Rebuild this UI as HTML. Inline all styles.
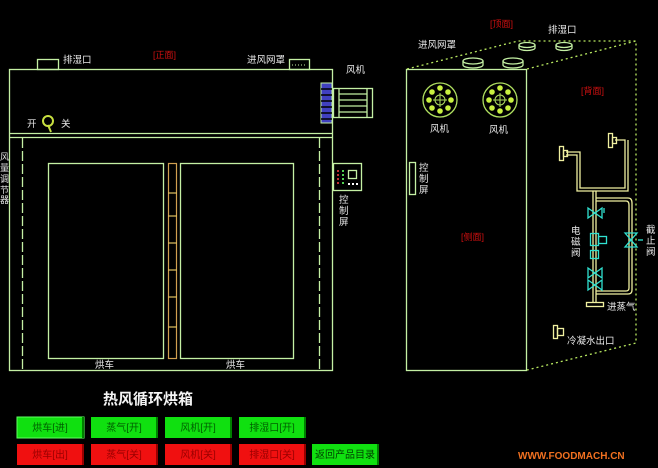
<!DOCTYPE html>
<html><head><meta charset="utf-8"><style>
body{margin:0;background:#000;width:658px;height:468px;overflow:hidden}
svg{display:block}
text{font-family:"Liberation Sans","Noto Sans CJK SC",sans-serif}
.l{fill:none;stroke:#c4f0a4;stroke-width:1.3}
.d{fill:none;stroke:#b8e860;stroke-width:1.3;stroke-dasharray:2 3}
.w{fill:#e8e8e8;font-size:9.5px}
.r{fill:#d01010;font-size:9px}
.y{fill:none;stroke:#f0f0a0;stroke-width:1.3}
.c{fill:none;stroke:#30e0d0;stroke-width:1.3}
.bt{font-size:10px;text-anchor:middle}
</style></head><body>
<svg width="658" height="468" viewBox="0 0 658 468">
<!-- Front view -->
<rect class="l" x="9.5" y="69.5" width="323" height="301"/>
<line class="l" x1="9" y1="133.5" x2="332" y2="133.5"/>
<line class="l" x1="9" y1="137.5" x2="332" y2="137.5"/>
<line class="l" x1="22.5" y1="138" x2="22.5" y2="370" stroke-dasharray="10 3"/>
<line class="l" x1="319.5" y1="138" x2="319.5" y2="370" stroke-dasharray="10 3"/>
<rect class="l" x="48.5" y="163.5" width="115" height="195"/>
<rect class="l" x="180.5" y="163.5" width="113" height="195"/>
<rect x="168.5" y="163.5" width="8" height="195" fill="none" stroke="#d0a050" stroke-width="1.2"/>
<g stroke="#e0c060" stroke-width="1.2">
<line x1="168" y1="216" x2="177" y2="216"/><line x1="168" y1="243" x2="177" y2="243"/><line x1="168" y1="270" x2="177" y2="270"/><line x1="168" y1="297" x2="177" y2="297"/><line x1="168" y1="327" x2="177" y2="327"/><line x1="168" y1="193" x2="177" y2="193"/></g>
<rect class="l" x="37.5" y="59.5" width="21" height="10"/>
<rect class="l" x="289.5" y="59.5" width="20" height="10"/>
<line x1="292" y1="65" x2="307" y2="65" stroke="#c4f0a4" stroke-dasharray="1 2"/>
<rect x="321" y="83" width="11" height="40" fill="#4040c0" stroke="#c4f0a4"/>
<g stroke="#000" stroke-width="1.5"><line x1="321" y1="89" x2="332" y2="89"/><line x1="321" y1="95" x2="332" y2="95"/><line x1="321" y1="101" x2="332" y2="101"/><line x1="321" y1="107" x2="332" y2="107"/><line x1="321" y1="113" x2="332" y2="113"/><line x1="321" y1="119" x2="332" y2="119"/></g>
<rect class="l" x="333.5" y="88.5" width="39" height="29"/>
<line class="l" x1="339" y1="88" x2="339" y2="118"/><line class="l" x1="367" y1="88" x2="367" y2="118"/>
<g class="l"><line x1="339" y1="94" x2="367" y2="94"/><line x1="339" y1="100" x2="367" y2="100"/><line x1="339" y1="106" x2="367" y2="106"/><line x1="339" y1="112" x2="367" y2="112"/></g>
<rect class="l" x="333.5" y="163.5" width="28" height="27"/>
<rect class="l" x="348.5" y="170.5" width="8" height="8"/>
<g fill="#c03030"><rect x="337" y="170" width="2" height="2"/><rect x="337" y="174" width="2" height="2"/><rect x="337" y="178" width="2" height="2"/><rect x="337" y="182" width="2" height="2"/></g>
<g fill="#50d050"><rect x="342" y="170" width="2" height="2"/><rect x="342" y="174" width="2" height="2"/><rect x="342" y="178" width="2" height="2"/><rect x="342" y="182" width="2" height="2"/></g>
<g fill="#fff"><rect x="348" y="183" width="2" height="2"/><rect x="352" y="183" width="2" height="2"/><rect x="356" y="183" width="2" height="2"/></g>
<circle cx="48" cy="121" r="5" fill="none" stroke="#c8e040" stroke-width="2"/>
<line x1="48" y1="125" x2="51" y2="132" stroke="#c8e040" stroke-width="2"/>
<text class="w" x="27" y="127">开</text><text class="w" x="61" y="127">关</text>
<text class="w" x="63" y="63">排湿口</text>
<text class="w" x="247" y="63">进风网罩</text>
<text class="w" x="346" y="73">风机</text>
<text class="r" x="153" y="58">[正面]</text>
<text class="w" x="0" y="160" style="font-size:9px">风</text><text class="w" x="0" y="171" style="font-size:9px">量</text><text class="w" x="0" y="182" style="font-size:9px">调</text><text class="w" x="0" y="193" style="font-size:9px">节</text><text class="w" x="0" y="203" style="font-size:9px">器</text>
<text class="w" x="339" y="203">控</text><text class="w" x="339" y="214">制</text><text class="w" x="339" y="225">屏</text>
<text class="w" x="95" y="368">烘车</text><text class="w" x="226" y="368">烘车</text>
<!-- Side view -->
<rect class="l" x="406.5" y="69.5" width="120" height="301"/>
<path class="d" d="M407 69 L518 41 L636 41 L636 343 L527 370 M527 69 L636 41"/>
<g class="l">
<ellipse cx="473" cy="61" rx="10" ry="3"/><path d="M463 61 v4 a10 3 0 0 0 20 0 v-4"/>
<ellipse cx="513" cy="61" rx="10" ry="3"/><path d="M503 61 v4 a10 3 0 0 0 20 0 v-4"/>
<ellipse cx="527" cy="45" rx="8" ry="2.5"/><path d="M519 45 v3 a8 2.5 0 0 0 16 0 v-3"/>
<ellipse cx="564" cy="45" rx="8" ry="2.5"/><path d="M556 45 v3 a8 2.5 0 0 0 16 0 v-3"/>
</g>
<g>
<circle cx="440" cy="100" r="17" fill="none" stroke="#b0e060" stroke-width="1.3"/>
<circle cx="440" cy="100" r="5" fill="none" stroke="#b0e060"/><line x1="433" y1="100" x2="447" y2="100" stroke="#b0e060"/><line x1="440" y1="93" x2="440" y2="107" stroke="#b0e060"/>
<g fill="#c8f040"><circle cx="440" cy="88" r="2.8"/><circle cx="448" cy="92" r="2.8"/><circle cx="451" cy="100" r="2.8"/><circle cx="448" cy="108" r="2.8"/><circle cx="440" cy="111" r="2.8"/><circle cx="432" cy="108" r="2.8"/><circle cx="429" cy="100" r="2.8"/><circle cx="432" cy="92" r="2.8"/></g>
<circle cx="500" cy="100" r="17" fill="none" stroke="#b0e060" stroke-width="1.3"/>
<circle cx="500" cy="100" r="5" fill="none" stroke="#b0e060"/><line x1="493" y1="100" x2="507" y2="100" stroke="#b0e060"/><line x1="500" y1="93" x2="500" y2="107" stroke="#b0e060"/>
<g fill="#c8f040"><circle cx="500" cy="88" r="2.8"/><circle cx="508" cy="92" r="2.8"/><circle cx="511" cy="100" r="2.8"/><circle cx="508" cy="108" r="2.8"/><circle cx="500" cy="111" r="2.8"/><circle cx="492" cy="108" r="2.8"/><circle cx="489" cy="100" r="2.8"/><circle cx="492" cy="92" r="2.8"/></g>
</g>
<text class="w" x="430" y="132">风机</text><text class="w" x="489" y="133">风机</text>
<text class="w" x="418" y="48">进风网罩</text>
<text class="w" x="548" y="33">排湿口</text>
<text class="r" x="490" y="27">[顶面]</text>
<text class="r" x="581" y="94">[背面]</text>
<text class="r" x="461" y="240">[侧面]</text>
<rect class="l" x="409.5" y="162.5" width="6" height="32"/>
<text class="w" x="419" y="171">控</text><text class="w" x="419" y="182">制</text><text class="w" x="419" y="193">屏</text>
<!-- pipes -->
<g class="y">
<path d="M566 152 H580 V188 H625 V140 H615"/><path d="M566 155 H577 V191 H628 V140"/>
<rect x="559.5" y="146.5" width="4" height="14"/><rect x="563.5" y="150.5" width="4" height="6"/>
<rect x="608.5" y="133.5" width="4" height="14"/><rect x="612.5" y="137.5" width="4" height="6"/>
<line x1="593" y1="191" x2="593" y2="302"/><line x1="596" y1="191" x2="596" y2="302"/>
<rect x="586.5" y="302.5" width="17" height="4"/>
<path d="M596 198 H628 Q632 198 632 203 V290 Q632 294 628 294 H596"/><path d="M596 201 H626 Q629 201 629 205 V288 Q629 291 626 291 H596"/>
<rect x="553.5" y="325.5" width="4" height="13"/><rect x="557.5" y="328.5" width="6" height="7"/>
</g>
<g class="c">
<path d="M588 208 L602 218 L602 208 L588 218 Z"/><line x1="604" y1="213" x2="604" y2="208"/>
<path d="M588 268 L602 278 L602 268 L588 278 Z"/>
<path d="M588 280 L602 290 L602 280 L588 290 Z"/>
<rect x="590.5" y="233.5" width="8" height="12"/><rect x="598.5" y="236.5" width="8" height="7"/>
<rect x="590.5" y="250.5" width="8" height="8"/>
<path d="M625 233 L637 247 L625 247 L637 233 Z"/><line x1="638" y1="240" x2="643" y2="240"/>
</g>
<text class="w" x="571" y="234">电</text><text class="w" x="571" y="245">磁</text><text class="w" x="571" y="256">阀</text>
<text class="w" x="646" y="233">截</text><text class="w" x="646" y="244">止</text><text class="w" x="646" y="255">阀</text>
<text class="w" x="607" y="310">进蒸气</text>
<text class="w" x="567" y="344">冷凝水出口</text>
<!-- title & buttons -->
<text x="103" y="404" fill="#f4f4f4" style="font-size:15px;font-weight:bold">热风循环烘箱</text>
<g>
<rect x="17" y="417" width="67" height="21" fill="#10e010" stroke="#60ff60"/><rect x="91" y="417" width="67" height="21" fill="#10e010"/><rect x="165" y="417" width="67" height="21" fill="#10e010"/><rect x="239" y="417" width="67" height="21" fill="#10e010"/>
<rect x="17" y="444" width="67" height="21" fill="#f01010"/><rect x="91" y="444" width="67" height="21" fill="#f01010"/><rect x="165" y="444" width="67" height="21" fill="#f01010"/><rect x="239" y="444" width="67" height="21" fill="#f01010"/>
<rect x="312" y="444" width="67" height="21" fill="#10e010"/>
<g fill="#008000"><rect x="82" y="417" width="2" height="21"/><rect x="156" y="417" width="2" height="21"/><rect x="230" y="417" width="2" height="21"/><rect x="304" y="417" width="2" height="21"/><rect x="377" y="444" width="2" height="21"/></g>
<g fill="#900"><rect x="82" y="444" width="2" height="21"/><rect x="156" y="444" width="2" height="21"/><rect x="230" y="444" width="2" height="21"/><rect x="304" y="444" width="2" height="21"/></g>
<g class="bt" fill="#006000"><text x="50" y="431">烘车[进]</text><text x="124" y="431">蒸气[开]</text><text x="198" y="431">风机[开]</text><text x="272" y="431">排湿口[开]</text><text x="345" y="458" fill="#004000">返回产品目录</text></g>
<g class="bt" fill="#900"><text x="50" y="458">烘车[出]</text><text x="124" y="458">蒸气[关]</text><text x="198" y="458">风机[关]</text><text x="272" y="458">排湿口[关]</text></g>
</g>
<text x="518" y="459" fill="#f07020" style="font-size:10px;font-weight:bold">WWW.FOODMACH.CN</text>
</svg>
</body></html>
